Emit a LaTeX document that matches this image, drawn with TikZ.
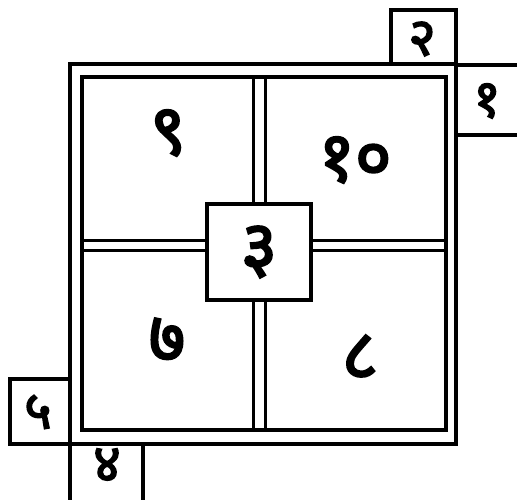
\documentclass[tikz,border=0pt]{standalone}
\usepackage{fontspec}
\newfontfamily\devfont[Script=Devanagari, FakeBold=3]{Noto Sans}
\usetikzlibrary{positioning}
\definecolor{ink}{RGB}{0,0,0}

\begin{document}
\begin{tikzpicture}[
    frame/.style={draw=ink, line width=2.2pt},
    cellnum/.style={font=\devfont\fontsize{40}{40}\selectfont, text=ink},
    sidenum/.style={font=\devfont\fontsize{30}{30}\selectfont, text=ink, inner sep=0pt}]
  \useasboundingbox (0,0) rectangle (10.34,9.98);
  % Outer and inner frame
  \draw[frame] (1.40,1.10) rectangle (9.12,8.70);
  \draw[frame] (1.64,1.38) rectangle (8.92,8.44);
  % Centre box
  \node[draw=ink, fill=white, line width=2.8pt, minimum width=2.08cm, minimum height=1.92cm,
        cellnum] (centre) at (5.18,4.94) {३};
  % Dividers (double lines)
  \draw[frame, line width=2pt] (5.07,8.44) -- (5.07,5.90);
  \draw[frame, line width=2pt] (5.31,8.44) -- (5.31,5.90);
  \draw[frame, line width=2pt] (5.07,3.98) -- (5.07,1.38);
  \draw[frame, line width=2pt] (5.31,3.98) -- (5.31,1.38);
  \draw[frame, line width=2pt] (1.64,5.17) -- (4.14,5.17);
  \draw[frame, line width=2pt] (1.64,4.97) -- (4.14,4.97);
  \draw[frame, line width=2pt] (6.22,5.17) -- (8.92,5.17);
  \draw[frame, line width=2pt] (6.22,4.97) -- (8.92,4.97);
  % Cell numbers
  \node[cellnum] (nine) at (3.36,7.32) {९};
  \node[cellnum] (ten) at (7.10,6.78) {१०};
  \node[cellnum] (seven) at (3.34,3.18) {७};
  \node[cellnum] (eight) at (7.20,2.84) {८};
  % Side boxes
  \draw[frame] (7.82,8.70) -- (7.82,9.78) -- (9.12,9.78) -- (9.12,8.70);
  \node[sidenum] (two) at (8.44,9.20) {२};
  \draw[frame] (9.12,8.68) -- (10.40,8.68);
  \draw[frame] (9.12,7.28) -- (10.40,7.28);
  \node[sidenum] (one) at (9.74,7.96) {१};
  \draw[frame] (1.40,2.40) -- (0.20,2.40) -- (0.20,1.10) -- (1.40,1.10);
  \node[sidenum] (five) at (0.76,1.74) {५};
  \draw[frame] (1.40,1.10) -- (1.40,-0.10);
  \draw[frame] (2.86,1.10) -- (2.86,-0.10);
  \node[sidenum] (four) at (2.14,0.68) {४};
\end{tikzpicture}
\end{document}
